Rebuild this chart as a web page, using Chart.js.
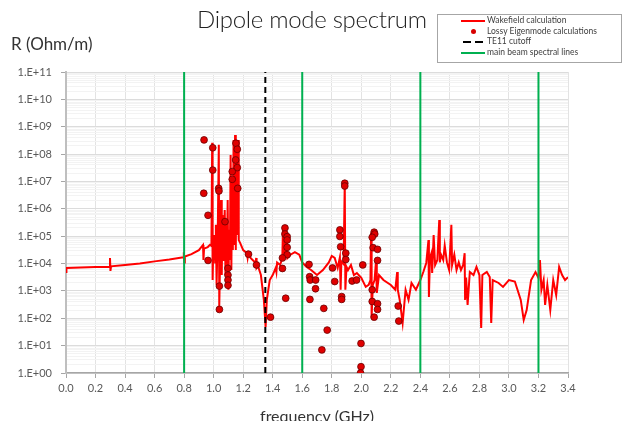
<!DOCTYPE html>
<html>
<head>
<meta charset="utf-8">
<script src="https://cdn.jsdelivr.net/npm/chart.js@4.4.1/dist/chart.umd.min.js"></script>
<style>
  html, body { margin: 0; padding: 0; background: #fff; overflow: hidden; width: 626px; height: 421px; }
  #wrap { position: absolute; left: 0; top: 0; width: 626px; height: 434px; }
  .txt { position: absolute; font-family: Lato, sans-serif; color: #222; white-space: nowrap; }
  #title { left: 197px; top: 4px; font-size: 24px; letter-spacing: -0.3px; font-weight: 300; }
  #ylab { left: 11px; top: 33px; font-size: 17px; color: #333; }
  #legend { position: absolute; left: 437px; top: 14px; width: 183px; height: 47px; border: 1px solid #a6a6a6; background: #fff;
            font-family: Lato, sans-serif; font-size: 8.5px; color: #404040; }
  .row { position: absolute; left: 0; height: 10px; width: 180px; }
  .row span { position: absolute; left: 49px; top: -1px; }
  .sw { position: absolute; }
</style>
</head>
<body>
<div id="wrap"><canvas id="chart"></canvas></div>
<div class="txt" id="title">Dipole mode spectrum</div>
<div class="txt" id="ylab">R (Ohm/m)</div>
<div id="legend">
  <div class="row" style="top:1px"><div class="sw" style="left:23px;top:4px;width:24px;border-top:2px solid #ff0000"></div><span>Wakefield calculation</span></div>
  <div class="row" style="top:12px"><div class="sw" style="left:33px;top:2px;width:5px;height:5px;border-radius:50%;background:#d80000"></div><span>Lossy Eigenmode calculations</span></div>
  <div class="row" style="top:22px"><div class="sw" style="left:25px;top:4px;width:8px;border-top:2px solid #000"></div><div class="sw" style="left:37px;top:4px;width:8px;border-top:2px solid #000"></div><span>TE11 cutoff</span></div>
  <div class="row" style="top:33px"><div class="sw" style="left:23px;top:4px;width:24px;border-top:2px solid #00b050"></div><span>main beam spectral lines</span></div>
</div>
<script>
// Wakefield calculation (frequency in GHz, R in Ohm/m)
const wakeFreq = [
  0.000, 0.003, 0.10, 0.20, 0.295, 0.298, 0.301, 0.305, 0.40, 0.50, 0.60, 0.70,
  0.795, 0.798, 0.801, 0.805, 0.85, 0.90, 0.928, 0.931, 0.935, 0.96, 0.975, 0.985,
  0.990, 0.993, 0.998, 1.005, 1.010, 1.015, 1.020, 1.028, 1.035, 1.038, 1.045, 1.050,
  1.055, 1.060, 1.065, 1.070, 1.075, 1.080, 1.085, 1.090, 1.095, 1.100, 1.105, 1.110,
  1.115, 1.120, 1.125, 1.130, 1.135, 1.140, 1.145, 1.150, 1.155, 1.160, 1.165, 1.170,
  1.180, 1.20, 1.225, 1.230, 1.235, 1.25, 1.285, 1.288, 1.291, 1.30, 1.32, 1.34,
  1.352, 1.36, 1.38, 1.40, 1.42, 1.425, 1.43, 1.45, 1.465, 1.470, 1.475, 1.485,
  1.490, 1.495, 1.50, 1.52, 1.55, 1.58, 1.60, 1.63, 1.66, 1.70, 1.74, 1.78,
  1.80, 1.82, 1.84, 1.855, 1.860, 1.865, 1.880, 1.888, 1.892, 1.90, 1.91, 1.93,
  1.95, 1.97, 2.00, 2.03, 2.05, 2.062, 2.066, 2.070, 2.078, 2.090, 2.100, 2.105,
  2.12, 2.15, 2.20, 2.23, 2.243, 2.247, 2.26, 2.28, 2.30, 2.32, 2.34, 2.37,
  2.40, 2.42, 2.44, 2.455, 2.458, 2.465, 2.475, 2.48, 2.49, 2.50, 2.515, 2.528,
  2.532, 2.54, 2.555, 2.565, 2.58, 2.595, 2.610, 2.615, 2.63, 2.645, 2.66, 2.675,
  2.69, 2.70, 2.703, 2.71, 2.72, 2.735, 2.76, 2.78, 2.80, 2.812, 2.82, 2.85,
  2.87, 2.88, 2.89, 2.93, 2.96, 3.00, 3.04, 3.08, 3.10, 3.12, 3.15, 3.18,
  3.20, 3.21, 3.22, 3.235, 3.245, 3.26, 3.28, 3.30, 3.32, 3.34, 3.36, 3.38, 3.40
];
const wakeR = [
  4.9e3, 6.9e3, 7.2e3, 7.5e3, 7.7e3, 1.6e4, 5.4e3, 7.9e3, 8.9e3, 1.0e4, 1.2e4, 1.4e4,
  1.7e4, 2.6e4, 1.1e4, 1.8e4, 2.2e4, 3.1e4, 4.8e4, 1.35e4, 3.5e4, 4.0e4, 4.8e4, 4.4e4,
  2.6e8, 2.5e3, 4.8e4, 1.1e5, 1.1e4, 2.6e5, 1.65e3, 1.7e5, 2.2e8, 2.6e2, 3.1e4, 2.1e6,
  3.8e3, 5.9e5, 1.35e4, 7.2e4, 9.1e5, 3.8e3, 3.9e5, 8.9e3, 2.1e6, 1.1e3, 1.7e5, 1.35e4,
  9.3e7, 5.8e3, 1.1e7, 3.1e4, 3.3e8, 4.8e4, 5.0e8, 3.1e4, 1.4e8, 1.1e5, 3.3e8, 7.2e4,
  5.6e4, 3.1e4, 2.4e4, 1.6e4, 2.4e4, 1.6e4, 1.05e4, 1.6e4, 6.9e3, 8.1e3, 3.8e3, 4.7e2,
  48, 4.7e2, 2.5e3, 3.8e3, 6.9e3, 4.9e3, 1.1e4, 8.9e3, 1.6e4, 2.2e5, 1.35e4, 1.7e5,
  1.6e4, 1.1e5, 1.6e4, 2.1e4, 2.6e4, 2.1e4, 1.1e4, 7.5e3, 5.8e3, 3.8e3, 5.8e3, 1.1e4,
  1.9e4, 1.6e4, 6.9e3, 1.7e4, 1.1e3, 1.2e4, 9.6e3, 8.8e6, 1.1e3, 7.5e3, 5.8e3, 8.9e3,
  3.8e3, 4.5e3, 3.0e3, 1.4e3, 1.65e3, 2.5e3, 1.3e5, 1.1e2, 1.65e3, 2.5e3, 1.35e4, 8.4e2,
  3.8e3, 2.5e3, 1.65e3, 1.1e3, 4.9e3, 1.1e3, 4.7e2, 67, 1.1e3, 4.7e2, 1.95e3, 1.1e3,
  2.5e3, 4.9e3, 1.05e4, 7.2e4, 6.0e2, 1.6e4, 2.4e4, 4.5e3, 1.1e5, 8.9e3, 1.35e4, 3.9e5,
  1.1e4, 2.1e4, 1.35e4, 4.5e4, 1.1e4, 5.8e3, 2.6e5, 8.9e3, 2.1e4, 5.8e3, 1.1e4, 5.8e3,
  8.9e3, 2.4e4, 4.7e2, 3.1e3, 3.1e2, 4.9e3, 3.8e3, 7.5e3, 3.8e3, 44, 3.8e3, 4.9e3,
  3.2e3, 67, 2.5e3, 1.95e3, 1.4e3, 2.5e3, 2.2e3, 4.7e2, 87, 2.0e2, 2.5e3, 4.9e3,
  3.0e3, 1.35e4, 1.1e3, 2.5e3, 3.1e2, 1.65e3, 2.0e2, 2.5e3, 7.1e2, 7.5e3, 3.8e3, 2.5e3, 3.2e3
];

// Lossy eigenmode calculations
const eigFreq = [
  0.935, 0.994, 0.994, 0.933, 0.962, 0.962, 1.034, 1.036, 1.077, 1.039, 1.039, 1.097,
  1.097, 1.097, 1.097, 1.151, 1.160, 1.149, 1.160, 1.126, 1.126, 1.163, 1.236, 1.290,
  1.385, 1.483, 1.483, 1.498, 1.498, 1.498, 1.498, 1.466, 1.466, 1.488, 1.646, 1.650,
  1.654, 1.691, 1.690, 1.652, 1.746, 1.769, 1.733, 1.805, 1.820, 1.855, 1.855, 1.860,
  1.888, 1.888, 1.895, 1.895, 1.867, 1.867, 1.938, 1.968, 2.010, 1.998, 1.998, 1.995,
  2.087, 2.091, 2.074, 2.080, 2.110, 2.110, 2.074, 2.074, 2.110, 2.110, 2.087, 2.250, 2.254
];
const eigR = [
  3.3e8, 1.7e8, 2.6e7, 3.7e6, 5.8e5, 1.3e4, 5.6e6, 4.5e6, 3.4e5, 1.5e3, 2.1e2, 6.7e3,
  3.8e3, 2.5e3, 1.6e3, 2.5e8, 1.5e8, 6.1e7, 3.2e7, 2.3e7, 1.2e7, 5.6e6, 2.2e4, 8.9e3,
  1.1e2, 2.0e5, 1.2e5, 9.6e4, 7.3e4, 3.9e4, 2.1e4, 1.6e4, 6.6e3, 5.4e2, 9.3e3, 3.3e3,
  2.5e3, 2.5e3, 1.2e3, 4.9e2, 2.3e2, 37, 7, 6.9e3, 2.2e3, 1.7e5, 9.8e4, 4.1e4,
  8.6e6, 6.8e6, 2.4e4, 1.4e4, 6.2e2, 4.9e2, 2.3e3, 2.5e3, 8.9e3, 12, 1.7, 1.0,
  1.4e5, 1.2e5, 9.1e4, 3.8e4, 3.3e4, 1.3e4, 1.1e3, 4.1e2, 3.4e2, 2.1e2, 1.1e2, 2.8e2, 79
];

// TE11 cutoff and main beam spectral lines (GHz)
const te11Cutoff = 1.35;
const beamLines = [0.8, 1.6, 2.4, 3.2];

const yMin = 1, yMax = 1e11;
const yDecades = [0, 1, 2, 3, 4, 5, 6, 7, 8, 9, 10, 11];
const yTickLabels = ['1.E+00', '1.E+01', '1.E+02', '1.E+03', '1.E+04', '1.E+05',
                     '1.E+06', '1.E+07', '1.E+08', '1.E+09', '1.E+10', '1.E+11'];

const wakeData = wakeFreq.map((f, i) => ({ x: f, y: wakeR[i] }));
const eigData = eigFreq.map((f, i) => ({ x: f, y: eigR[i] }));
const cutoffData = [{ x: te11Cutoff, y: yMin }, { x: te11Cutoff, y: yMax }];
const beamData = [];
beamLines.forEach(f => {
  beamData.push({ x: f, y: yMin }, { x: f, y: yMax }, { x: f, y: null });
});

function isDecade(v) {
  const l = Math.log10(v);
  return Math.abs(l - Math.round(l)) < 1e-9;
}

const tickFont = { family: 'Lato, sans-serif', size: 11 };

new Chart(document.getElementById('chart'), {
  type: 'scatter',
  data: {
    datasets: [
      {
        label: 'Wakefield calculation',
        type: 'line',
        data: wakeData,
        borderColor: '#ff0000',
        borderWidth: 2,
        pointRadius: 0,
        tension: 0,
        order: 4
      },
      {
        label: 'main beam spectral lines',
        type: 'line',
        data: beamData,
        borderColor: '#00b050',
        borderWidth: 2,
        pointRadius: 0,
        spanGaps: false,
        order: 3
      },
      {
        label: 'TE11 cutoff',
        type: 'line',
        data: cutoffData,
        borderColor: '#000000',
        borderWidth: 2,
        borderDash: [6, 4],
        pointRadius: 0,
        order: 2
      },
      {
        label: 'Lossy Eigenmode calculations',
        data: eigData,
        backgroundColor: '#e00000',
        borderColor: '#6a0000',
        borderWidth: 0.8,
        pointRadius: 3.4,
        order: 1
      }
    ]
  },
  options: {
    responsive: true,
    maintainAspectRatio: false,
    animation: false,
    layout: { padding: { left: 0, right: 58, top: 72, bottom: 0 } },
    plugins: {
      legend: { display: false },
      tooltip: { enabled: false },
      title: { display: false }
    },
    scales: {
      x: {
        type: 'linear',
        min: 0,
        max: 3.4,
        afterFit: s => { s.height = 61; },
        ticks: {
          stepSize: 0.2,
          color: '#595959',
          font: tickFont,
          padding: 4,
          maxRotation: 0,
          autoSkip: false,
          callback: v => v.toFixed(1)
        },
        grid: { color: '#e3e3e3', lineWidth: 1, tickLength: 5, tickColor: '#a6a6a6' },
        border: { color: '#a6a6a6', width: 1.5 },
        title: {
          display: true,
          text: 'frequency (GHz)',
          color: '#333',
          font: { family: 'Lato, sans-serif', size: 16 },
          padding: { top: 0, bottom: 8 }
        }
      },
      y: {
        type: 'logarithmic',
        min: yMin,
        max: yMax,
        afterFit: s => { s.width = 66; },
        afterBuildTicks: s => {
          const t = [];
          yDecades.forEach(d => {
            const top = d === 11 ? 1 : 9;
            for (let m = 1; m <= top; m++) t.push({ value: m * Math.pow(10, d) });
          });
          s.ticks = t;
        },
        ticks: {
          color: '#595959',
          font: tickFont,
          padding: 9,
          autoSkip: false,
          callback: v => isDecade(v) ? yTickLabels[Math.round(Math.log10(v))] : ''
        },
        grid: {
          color: c => (c.tick && isDecade(c.tick.value)) ? '#dcdcdc' : '#f3f3f3',
          tickColor: c => (c.tick && isDecade(c.tick.value)) ? '#a6a6a6' : 'rgba(0,0,0,0)',
          tickLength: 5,
          lineWidth: 1
        },
        border: { color: '#bfbfbf', width: 2 }
      }
    }
  }
});
</script>
</body>
</html>
